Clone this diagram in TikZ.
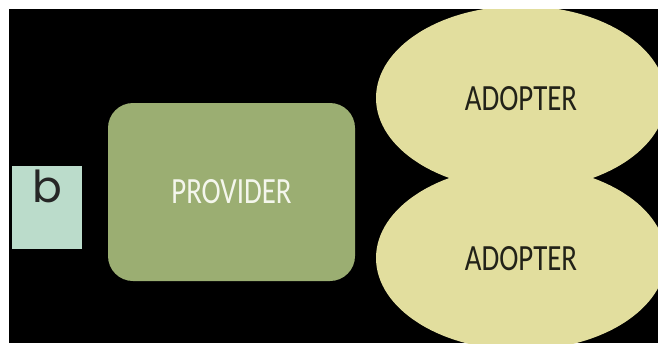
\documentclass[tikz,border=0pt]{standalone}
\usepackage{fontspec}
\usetikzlibrary{shapes.geometric}
\newfontfamily\condfont[FakeStretch=0.78]{Carlito}
\newfontfamily\geofont{Poppins}
\definecolor{mintc}{HTML}{BBDCCB}
\definecolor{provc}{HTML}{9BAE72}
\definecolor{adoptc}{HTML}{E2DE9E}
\definecolor{adtext}{HTML}{222218}
\definecolor{provtext}{HTML}{F4F6EC}
\tikzset{
  bbox/.style={fill=mintc, draw=none, minimum width=70pt, minimum height=83pt, inner sep=0pt},
  provbox/.style={fill=provc, draw=none, rounded corners=25pt, minimum width=247pt, minimum height=178pt, inner sep=0pt, text=provtext, font=\condfont\fontsize{37}{40}\selectfont},
  adoptbox/.style={ellipse, fill=adoptc, draw=none, minimum width=290pt, minimum height=184pt, inner sep=0pt, text=adtext, font=\condfont\fontsize{37}{40}\selectfont},
}
\begin{document}
\begin{tikzpicture}[x=1pt, y=-1pt]
\useasboundingbox (0,0) rectangle (658,343);
\fill[black] (9,9) rectangle (658,343);
\node[bbox] (bb) at (47,207.5) {};
\node[font=\geofont\fontsize{44}{48}\selectfont, text=black!85, inner sep=0pt] (bt) at (47.5,186) {b};
\node[provbox] (prov) at (231.5,192) {PROVIDER};
\begin{scope}
  \clip (9,9) rectangle (658,343);
  \node[adoptbox] (ad1) at (521,98) {};
  \node[adoptbox] (ad2) at (521,258) {};
  \node[font=\condfont\fontsize{37}{40}\selectfont, text=adtext] (t1) at (521,98.5) {ADOPTER};
  \node[font=\condfont\fontsize{37}{40}\selectfont, text=adtext] (t2) at (521,258.5) {ADOPTER};
\end{scope}
\end{tikzpicture}
\end{document}
